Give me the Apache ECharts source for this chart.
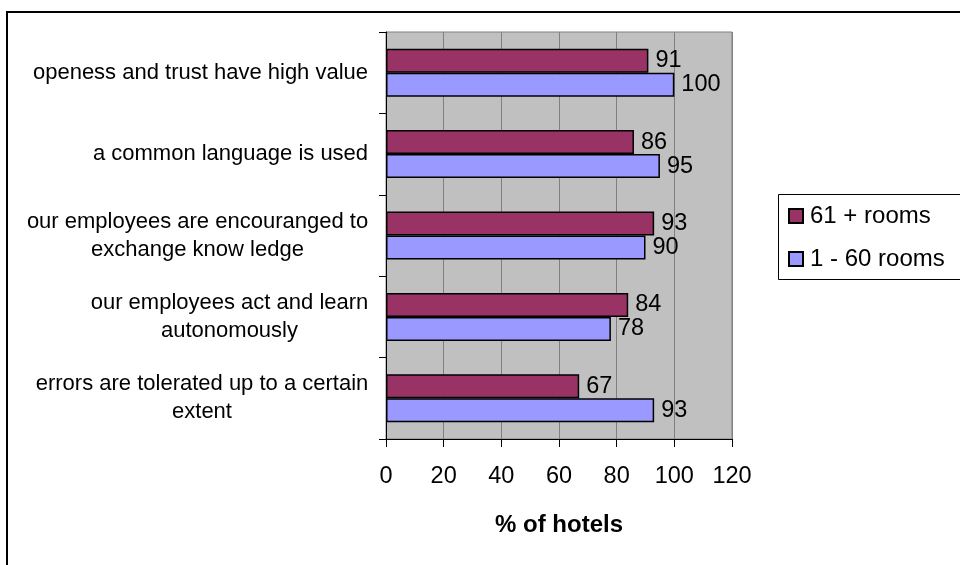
<!DOCTYPE html>
<html>
<head>
<meta charset="UTF-8">
<title>% of hotels</title>
<script type="text/javascript" src="https://cdn.jsdelivr.net/npm/echarts@6/dist/echarts.min.js"></script>
<style>
html, body { margin: 0; padding: 0; background: #fff; }
</style>
</head>
<body>
<div id="main" style="width:960px;height:565px"></div>
<script type="text/javascript">
// categories listed bottom to top (echarts draws index 0 at the bottom)
var categories = [
	'errors are tolerated up to a certain\nextent',
	'our employees act and learn\nautonomously',
	'our employees are encouranged to\nexchange know ledge',
	'a common language is used',
	'openess and trust have high value'
];
var rooms61 = [67, 84, 93, 86, 91];
var rooms1to60 = [93, 78, 90, 95, 100];
var xTicks = [0, 20, 40, 60, 80, 100, 120];

var FONT = '"Liberation Sans", Arial, sans-serif';
var CAT_SIZE = 22;
var NUM_SIZE = 23.5;

// each category label: block right-aligned at the axis, lines centred inside the block
var ctx = document.createElement('canvas').getContext('2d');
ctx.font = CAT_SIZE + 'px ' + FONT;
var catRich = {};
categories.forEach(function (c, i) {
	var w = 0;
	c.split('\n').forEach(function (l) { w = Math.max(w, ctx.measureText(l).width); });
	catRich['c' + i] = { width: Math.ceil(w) + 1, align: 'center', fontFamily: FONT,
		fontSize: CAT_SIZE, lineHeight: 28, color: '#000' };
});

var myEcharts = echarts.init(document.getElementById('main'));

var option = {
	backgroundColor: '#ffffff',
	animation: false,
	textStyle: { fontFamily: FONT, color: '#000' },
	graphic: [
		// outer chart border
		{ type: 'rect', shape: { x: 7, y: 12, width: 1000, height: 600 },
		  style: { fill: 'none', stroke: '#000', lineWidth: 2 }, z: 0 },
		// legend box
		{ type: 'rect', shape: { x: 778.5, y: 194.5, width: 300, height: 85 },
		  style: { fill: '#fff', stroke: '#000', lineWidth: 1 }, z: 1 }
	],
	legend: {
		orient: 'vertical',
		left: 788,
		top: 204,
		itemWidth: 14,
		itemHeight: 14,
		itemGap: 19,
		padding: 0,
		z: 5,
		icon: 'rect',
		textStyle: { fontFamily: FONT, fontSize: 24, color: '#000', padding: [0, 0, 0, 2] },
		data: ['61 + rooms', '1 - 60 rooms']
	},
	grid: {
		left: 386,
		right: 228,
		top: 32,
		bottom: 126,
		show: true,
		backgroundColor: '#c0c0c0',
		borderColor: '#808080',
		borderWidth: 1
	},
	xAxis: {
		type: 'value',
		min: xTicks[0],
		max: xTicks[xTicks.length - 1],
		interval: 20,
		name: '% of hotels',
		nameLocation: 'middle',
		nameGap: 74,
		nameTextStyle: { fontFamily: FONT, fontSize: 24, fontWeight: 'bold', color: '#000' },
		axisLine: { show: true, lineStyle: { color: '#000', width: 1 } },
		axisTick: { show: true, length: 8, lineStyle: { color: '#000' } },
		axisLabel: { fontFamily: FONT, fontSize: NUM_SIZE, color: '#000', margin: 26 },
		splitLine: { show: true, lineStyle: { color: '#808080', width: 1 } }
	},
	yAxis: {
		type: 'category',
		data: categories,
		axisLine: { show: true, lineStyle: { color: '#000', width: 1 } },
		axisTick: { show: true, length: 7, alignWithLabel: false, lineStyle: { color: '#000' } },
		axisLabel: {
			margin: 17,
			rich: catRich,
			formatter: function (v, i) {
				return v.split('\n').map(function (l) { return '{c' + i + '|' + l + '}'; }).join('\n');
			}
		},
		splitLine: { show: false }
	},
	series: [
		{
			name: '61 + rooms',
			type: 'bar',
			data: rooms61,
			barWidth: 24,
			barGap: '0%',
			itemStyle: { color: '#993366', borderColor: '#000', borderWidth: 1.5 },
			label: { show: true, position: 'right', distance: 7, fontFamily: FONT, fontSize: NUM_SIZE, color: '#000' }
		},
		{
			name: '1 - 60 rooms',
			type: 'bar',
			data: rooms1to60,
			barWidth: 24,
			barGap: '0%',
			itemStyle: { color: '#9999ff', borderColor: '#000', borderWidth: 1.5 },
			label: { show: true, position: 'right', distance: 7, fontFamily: FONT, fontSize: NUM_SIZE, color: '#000' }
		}
	]
};

myEcharts.setOption(option);
</script>
</body>
</html>
